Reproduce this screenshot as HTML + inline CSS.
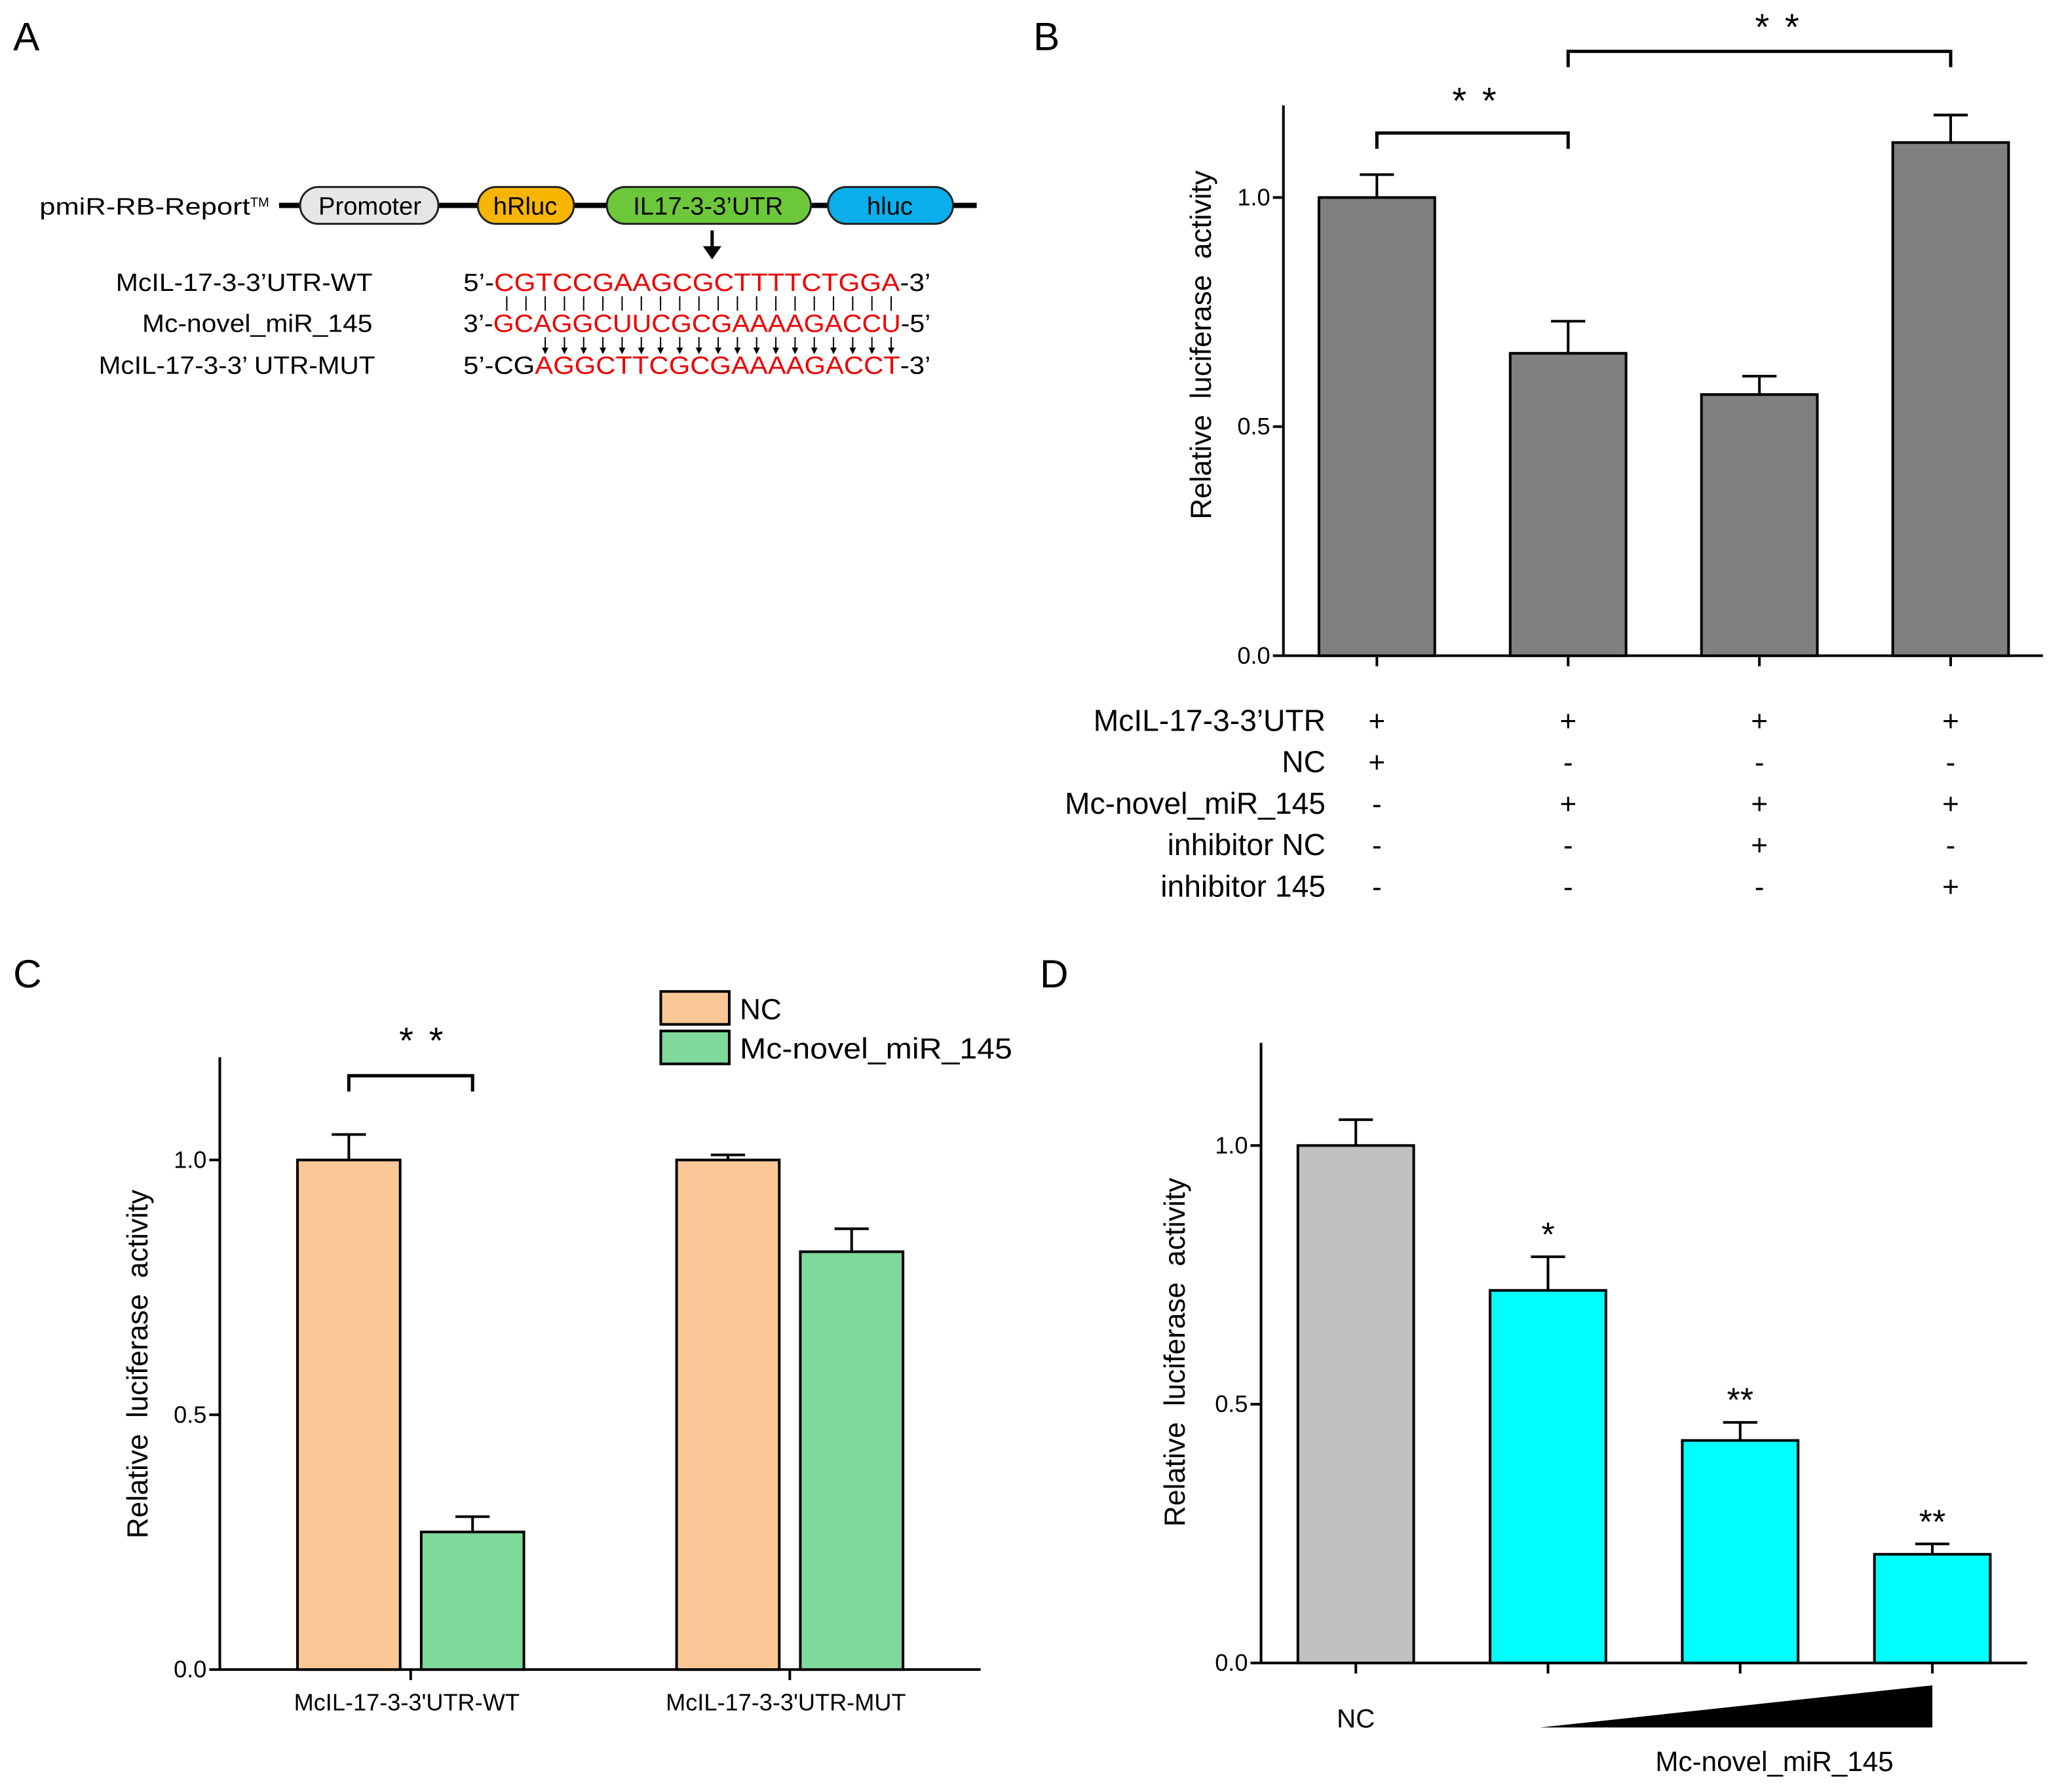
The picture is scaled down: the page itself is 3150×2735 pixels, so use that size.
<!DOCTYPE html>
<html><head><meta charset="utf-8"><style>
html,body{margin:0;padding:0;background:#fff;}
svg{display:block;font-family:"Liberation Sans",Arial,sans-serif;}
</style></head><body>
<svg id="fig" width="3150" height="2735" viewBox="0 0 1568 1361" preserveAspectRatio="none" xmlns="http://www.w3.org/2000/svg">
<g>
<text x="10" y="38" font-size="30">A</text>
<text x="30" y="163" font-size="18" textLength="160" lengthAdjust="spacingAndGlyphs">pmiR-RB-Report</text>
<text x="190" y="157" font-size="10">TM</text>
<line x1="212" y1="156" x2="742" y2="156" stroke="#000" stroke-width="4"/>
<rect x="228" y="142" width="105" height="28" rx="14" fill="#e6e6e6" stroke="#222" stroke-width="1.5"/>
<text x="281" y="163" font-size="19" text-anchor="middle">Promoter</text>
<rect x="363" y="142" width="73" height="28" rx="14" fill="#f7b500" stroke="#222" stroke-width="1.5"/>
<text x="399" y="163" font-size="19" text-anchor="middle">hRluc</text>
<rect x="461" y="142" width="155" height="28" rx="14" fill="#6cc83a" stroke="#222" stroke-width="1.5"/>
<text x="538" y="163" font-size="19" text-anchor="middle">IL17-3-3’UTR</text>
<rect x="629" y="142" width="95" height="28" rx="14" fill="#0aaeea" stroke="#222" stroke-width="1.5"/>
<text x="676" y="163" font-size="19" text-anchor="middle">hluc</text>
<line x1="541" y1="175" x2="541" y2="190" stroke="#000" stroke-width="2.5"/>
<polygon points="534,187 548,187 541,197" fill="#000"/>
<g font-size="19">
<text x="283" y="221" text-anchor="end" textLength="195" lengthAdjust="spacingAndGlyphs">McIL-17-3-3’UTR-WT</text>
<text x="283" y="252" text-anchor="end" textLength="175" lengthAdjust="spacingAndGlyphs">Mc-novel_miR_145</text>
<text x="285" y="284" text-anchor="end" textLength="210" lengthAdjust="spacingAndGlyphs">McIL-17-3-3’ UTR-MUT</text>
</g>
<g font-size="19">
<text x="352" y="221" textLength="355" lengthAdjust="spacingAndGlyphs">5’-<tspan fill="#e00">CGTCCGAAGCGCTTTTCTGGA</tspan>-3’</text>
<text x="352" y="252" textLength="355" lengthAdjust="spacingAndGlyphs">3’-<tspan fill="#e00">GCAGGCUUCGCGAAAAGACCU</tspan>-5’</text>
<text x="352" y="284" textLength="355" lengthAdjust="spacingAndGlyphs">5’-CG<tspan fill="#e00">AGGCTTCGCGAAAAGACCT</tspan>-3’</text>
</g>
<g id="pairs" stroke="#000" stroke-width="1"></g>
</g>

<g>
<text x="785" y="38" font-size="30">B</text>
<g id="chartB"></g>
</g>
<g>
<text x="10" y="750" font-size="30">C</text>
<g id="chartC"></g>
</g>
<g>
<text x="790" y="750" font-size="30">D</text>
<g id="chartD"></g>
</g>
</svg>
<script>
// ---- data ----
const bCategories = ['G1','G2','G3','G4'];
const bValues = [1.0, 0.66, 0.57, 1.12];
const bErrors = [0.05, 0.07, 0.04, 0.06];
const bRowLabels = ['McIL-17-3-3’UTR','NC','Mc-novel_miR_145','inhibitor NC','inhibitor 145'];
const bSigns = [['+','+','+','+'],['+','-','-','-'],['-','+','+','+'],['-','-','+','-'],['-','-','-','+']];
const cGroups = ['McIL-17-3-3\'UTR-WT','McIL-17-3-3\'UTR-MUT'];
const cNC = [1.0, 1.0];
const cNCErr = [0.05, 0.01];
const cMiR = [0.27, 0.82];
const cMiRErr = [0.03, 0.045];
const dCategories = ['NC','L1','L2','L3'];
const dValues = [1.0, 0.72, 0.43, 0.21];
const dErrors = [0.05, 0.065, 0.035, 0.02];
const dStars = ['', '*', '**', '**'];
const yTicks = [0.0, 0.5, 1.0];
const yTickLabels = ['0.0','0.5','1.0'];

const NS='http://www.w3.org/2000/svg';
function mk(parent, tag, attrs, text){
  const e=document.createElementNS(NS,tag);
  for(const k in attrs) e.setAttribute(k,attrs[k]);
  if(text!==undefined) e.textContent=text;
  parent.appendChild(e); return e;
}
(function(){
  const g=document.getElementById('pairs');
  const x0=385, step=14.6;
  for(let i=0;i<21;i++){
    const x=x0+i*step;
    const l=mk(g,'line',{x1:x,y1:225,x2:x,y2:236});
    
    
    if(i>=2){
      const a=mk(g,'line',{x1:x,y1:256,x2:x,y2:266});
      
      
      mk(g,'polygon',{points:`${x-2.5},264 ${x+2.5},264 ${x},269`,fill:'#000',stroke:'none'});
    }
  }
})();

function axisY(g, ax, y0, unit, top, tickLen, fs, titleX, titleY){
  const l=mk(g,'line',{x1:ax,y1:y0,x2:ax,y2:top,stroke:'#000','stroke-width':2});
  
  
  yTicks.forEach((v,i)=>{
    const y=y0-v*unit;
    mk(g,'line',{x1:ax-tickLen,y1:y,x2:ax,y2:y,stroke:'#000','stroke-width':2});
    const t=mk(g,'text',{x:ax-10,y:y+6,'font-size':fs,'text-anchor':'end'},yTickLabels[i]);
    
    
  });
  const tt=mk(g,'text',{x:titleX,y:titleY,'font-size':22,'text-anchor':'middle','word-spacing':'6',transform:`rotate(-90 ${titleX} ${titleY})`},'Relative luciferase activity');
  
  
}
function bar(g, cx, w, y0, unit, v, err, fill, name){
  const y=y0-v*unit;
  const r=mk(g,'rect',{x:cx-w/2,y:y,width:w,height:v*unit,fill:fill,stroke:'#000','stroke-width':2});
  
  
  const ye=y0-(v+err)*unit;
  const e=mk(g,'path',{d:`M${cx},${y} V${ye} M${cx-13},${ye} H${cx+13}`,stroke:'#000','stroke-width':2,fill:'none'});
  
  
  return ye;
}
function bracket(g,x1,x2,y,sx,sy,txt){
  const p=mk(g,'path',{d:`M${x1},${y+12} V${y} H${x2} V${y+12}`,stroke:'#000','stroke-width':2.5,fill:'none'});
  
  
  const t=mk(g,'text',{x:sx,y:sy,'font-size':28,'text-anchor':'middle','word-spacing':'4'},txt);
  
  
}

// Chart B
(function(){
  const g=document.getElementById('chartB');
  const ax=975,y0=498,unit=348,x0=1046,step=145.3,w=88;
  axisY(g,ax,y0,unit,80,8,18,920,262);
  const xl=mk(g,'line',{x1:ax,y1:y0,x2:1552,y2:y0,stroke:'#000','stroke-width':2});
  
  
  bCategories.forEach((c,i)=>{
    const cx=x0+i*step;
    mk(g,'line',{x1:cx,y1:y0,x2:cx,y2:y0+8,stroke:'#000','stroke-width':2});
    bar(g,cx,w,y0,unit,bValues[i],bErrors[i],'#808080','bar-'+c.toLowerCase());
  });
  bracket(g,x0,x0+step,101,1120,86,'* *');
  bracket(g,x0+step,x0+3*step,39,1350,30,'* *');
  bRowLabels.forEach((lab,r)=>{
    const y=555+r*31.5;
    const t=mk(g,'text',{x:1007,y:y,'font-size':23,'text-anchor':'end'},lab);
    
    
    bSigns[r].forEach((s,i)=>{
      const st=mk(g,'text',{x:x0+i*step,y:y,'font-size':22,'text-anchor':'middle'},s);
      
      
    });
  });
})();

// Chart C
(function(){
  const g=document.getElementById('chartC');
  const ax=167,y0=1268,unit=387,gx0=312,gstep=288,off=47,w=78;
  axisY(g,ax,y0,unit,803,8,18,112,1036);
  const xl=mk(g,'line',{x1:ax,y1:y0,x2:745,y2:y0,stroke:'#000','stroke-width':2});
  
  
  cGroups.forEach((gname,i)=>{
    const gc=gx0+i*gstep;
    bar(g,gc-off,w,y0,unit,cNC[i],cNCErr[i],'#fcc797','bar-nc-'+i);
    bar(g,gc+off,w,y0,unit,cMiR[i],cMiRErr[i],'#7fd99a','bar-mir-'+i);
    mk(g,'line',{x1:gc,y1:y0,x2:gc,y2:y0+8,stroke:'#000','stroke-width':2});
    const t=mk(g,'text',{x:gc-3,y:1299,'font-size':18,'text-anchor':'middle'},gname);
    
    
  });
  bracket(g,gx0-off,gx0+off,817,320,800,'* *');
  const l1=mk(g,'rect',{x:502,y:753,width:52,height:25,fill:'#fcc797',stroke:'#000','stroke-width':2});
  
  
  const t1=mk(g,'text',{x:562,y:774,'font-size':22},'NC');
  
  
  const l2=mk(g,'rect',{x:502,y:783,width:52,height:25,fill:'#7fd99a',stroke:'#000','stroke-width':2});
  
  
  const t2=mk(g,'text',{x:562,y:804,'font-size':22,textLength:207,lengthAdjust:'spacingAndGlyphs'},'Mc-novel_miR_145');
  
  
})();

// Chart D
(function(){
  const g=document.getElementById('chartD');
  const ax=958,y0=1263,unit=393,x0=1030,step=146,w=88;
  axisY(g,ax,y0,unit,792,8,18,900,1027);
  const xl=mk(g,'line',{x1:ax,y1:y0,x2:1540,y2:y0,stroke:'#000','stroke-width':2});
  
  
  dCategories.forEach((c,i)=>{
    const cx=x0+i*step;
    mk(g,'line',{x1:cx,y1:y0,x2:cx,y2:y0+8,stroke:'#000','stroke-width':2});
    const ye=bar(g,cx,w,y0,unit,dValues[i],dErrors[i],i===0?'#c0c0c0':'#00ffff','bar-'+c.toLowerCase());
    if(dStars[i]){
      const s=mk(g,'text',{x:cx,y:ye-8,'font-size':26,'text-anchor':'middle'},dStars[i]);
      
      
    }
  });
  const n=mk(g,'text',{x:x0,y:1312,'font-size':20,'text-anchor':'middle'},'NC');
  
  
  const tri=mk(g,'polygon',{points:'1170,1312 1468,1280 1468,1312',fill:'#000'});
  
  
  const m=mk(g,'text',{x:1348,y:1345,'font-size':21,'text-anchor':'middle'},'Mc-novel_miR_145');
  
  
})();
</script>
</body></html>
